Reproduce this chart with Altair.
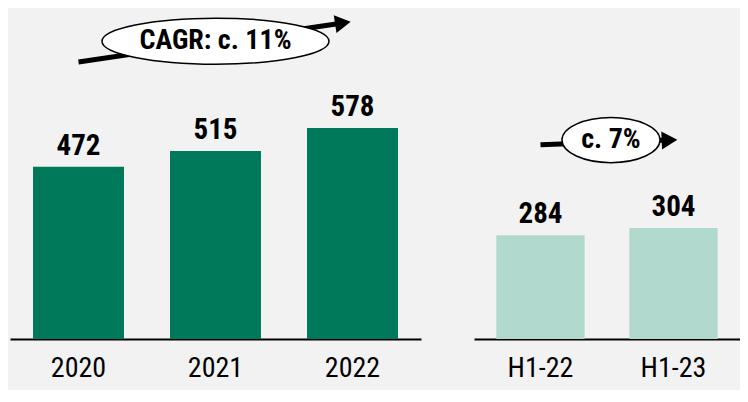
import altair as alt
import pandas as pd

# ---- data ----
years = ["2020", "2021", "2022"]
year_values = [472, 515, 578]
halves = ["H1-22", "H1-23"]
half_values = [284, 304]

cagr_label = "CAGR: c. 11%"
h1_label = "c. 7%"
# annotation positions, x in category-step units (centre of category i = i + 0.5)
cagr_x = [0.5, 2.43, 1.5]      # arrow start, arrow head, ellipse centre
cagr_y = [759, 866, 816]
h1_x = [0.5, 1.47, 1.03]
h1_y = [532, 545, 545]

DARK = "#00785a"
LIGHT = "#b2d9cd"
BG = "#f2f2f2"
FONT = "Liberation Sans Narrow, Arial Narrow, Roboto Condensed, DejaVu Sans Condensed, sans-serif"
YMAX = 907
PAD_IN = 0.336


def panel(cats, vals, color, width, ax, ay, label, ell_w, ell_ratio, angle):
    yscale = alt.Scale(domain=[0, YMAX], nice=False, zero=True)
    df = pd.DataFrame({"cat": cats, "val": vals})
    xscale = alt.Scale(domain=cats, paddingInner=PAD_IN, paddingOuter=PAD_IN / 2)
    x = alt.X("cat:N", sort=cats, scale=xscale,
              axis=alt.Axis(title=None, domainColor="black", domainWidth=2, ticks=False,
                            labelAngle=0, labelFontSize=28, labelFont=FONT,
                            labelColor="black", labelPadding=15))
    y = alt.Y("val:Q", scale=yscale, axis=None)
    bars = alt.Chart(df).mark_bar(color=color).encode(x=x, y=y)
    vals_txt = alt.Chart(df).mark_text(baseline="bottom", dy=-6, fontSize=29,
                                       fontWeight="bold", font=FONT, color="black").encode(
        x=alt.X("cat:N", sort=cats), y=y, text="val:Q")
    base = alt.layer(bars, vals_txt)

    qx = alt.Scale(domain=[0, len(cats)], nice=False, zero=False)
    arr = pd.DataFrame({"x1": [ax[0]], "x2": [ax[1]], "y1": [ay[0]], "y2": [ay[1]]})
    line = alt.Chart(arr).mark_rule(color="black", strokeWidth=5).encode(
        x=alt.X("x1:Q", scale=qx, axis=None), x2="x2",
        y=alt.Y("y1:Q", scale=yscale, axis=None), y2="y2")
    head = alt.Chart(arr).mark_point(shape="triangle-right", filled=True, color="black",
                                     opacity=1, size=330, angle=angle).encode(
        x=alt.X("x2:Q", scale=qx, axis=None), y=alt.Y("y2:Q", scale=yscale, axis=None))

    ell = pd.DataFrame({"x": [ax[2]], "y": [ay[2]], "t": [label]})
    r = ell_ratio
    path = f"M -1 0 A 1 {r} 0 1 0 1 0 A 1 {r} 0 1 0 -1 0 Z"
    ellipse = alt.Chart(ell).mark_point(shape=path, filled=True, fill="white", stroke="black",
                                        strokeWidth=1.5, opacity=1, size=ell_w ** 2).encode(
        x=alt.X("x:Q", scale=qx, axis=None), y=alt.Y("y:Q", scale=yscale, axis=None))
    etext = alt.Chart(ell).mark_text(fontSize=28, fontWeight="bold", font=FONT,
                                     color="black", baseline="middle").encode(
        x=alt.X("x:Q", scale=qx, axis=None), y=alt.Y("y:Q", scale=yscale, axis=None),
        text="t:N")
    ann = alt.layer(line, head, ellipse, etext)

    return alt.layer(base, ann).resolve_scale(x="independent").properties(
        width=width, height=331)


left = panel(years, year_values, DARK, 411, cagr_x, cagr_y, cagr_label, 227, 0.203, 351.4)
right = panel(halves, half_values, LIGHT, 266, h1_x, h1_y, h1_label, 98, 0.46, 357.5)

chart = alt.hconcat(left, right, spacing=53).properties(
    background=BG, padding={"left": 2, "top": 0, "right": 0, "bottom": 8}
).configure_view(stroke=None)

chart.save("out.html", embed_options={"renderer": "svg", "actions": False})
